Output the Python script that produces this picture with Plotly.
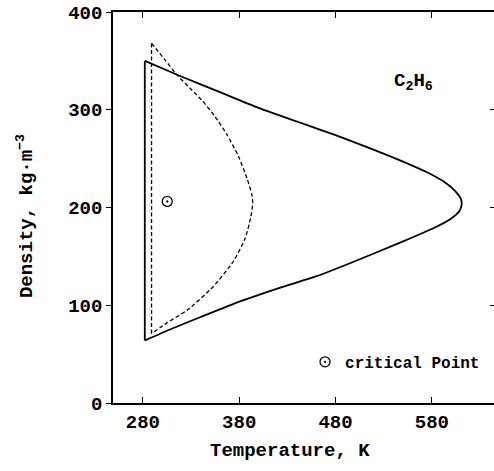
import plotly.graph_objects as go

# Ethane (C2H6): boundary curves in the temperature-density plane
# solid boundary: straight low-temperature edge plus the curved envelope
solid_edge_T = [282, 282]
solid_edge_rho = [64, 350]
solid_T = [282, 320, 360, 400, 440, 480, 520, 550, 575, 593, 604, 610, 611, 609,
           599, 582, 547, 495, 461, 426, 381, 340, 310, 282]
solid_rho = [350, 334, 318, 302, 288, 274, 259, 247, 236, 226, 217, 209, 204, 197,
             188, 179, 164, 143, 130, 119, 104, 88, 76, 64]

# dashed boundary
dashed_edge_T = [289, 289]
dashed_edge_rho = [71, 368]
dashed_T = [289, 303, 316, 329, 341, 355, 367, 379, 388, 393, 394, 392, 386, 374, 353, 326, 305, 289]
dashed_rho = [368, 351, 335, 322, 310, 293, 275, 253, 230, 214, 204, 190, 168, 145, 119, 95, 82, 71]

# critical point of ethane
crit_T = [305.3]
crit_rho = [206.2]

x_ticks = [280, 380, 480, 580]
y_ticks = [0, 100, 200, 300, 400]
right_ticks = [100, 200, 300]

FONT = "Liberation Mono"
INK = "black"
SOLID = dict(color=INK, width=1.8)
DASHED = dict(color=INK, width=1.3, dash="4px,2.5px")
TEXT = dict(family=FONT, size=19, weight="bold")

fig = go.Figure()
fig.add_trace(go.Scatter(x=solid_edge_T, y=solid_edge_rho, mode="lines", line=SOLID,
                         showlegend=False, hoverinfo="skip"))
fig.add_trace(go.Scatter(x=solid_T, y=solid_rho, mode="lines",
                         line=dict(**SOLID, shape="spline", smoothing=0.6),
                         showlegend=False, hoverinfo="skip"))
fig.add_trace(go.Scatter(x=dashed_edge_T, y=dashed_edge_rho, mode="lines", line=DASHED,
                         showlegend=False, hoverinfo="skip"))
fig.add_trace(go.Scatter(x=dashed_T, y=dashed_rho, mode="lines",
                         line=dict(**DASHED, shape="spline", smoothing=0.6),
                         showlegend=False, hoverinfo="skip"))
fig.add_trace(go.Scatter(x=crit_T, y=crit_rho, mode="markers", name="critical Point",
                         marker=dict(symbol="circle-open-dot", size=10, color=INK,
                                     line=dict(width=1.3, color=INK))))
# right-hand axis: inward ticks only
fig.add_trace(go.Scatter(x=[], y=[], yaxis="y2", showlegend=False, hoverinfo="skip"))

fig.update_layout(
    width=494, height=471,
    margin=dict(l=113, r=0, t=12, b=68),
    paper_bgcolor="white", plot_bgcolor="white",
    font=dict(family=FONT, size=19, color=INK, weight="bold"),
    xaxis=dict(range=[249, 644.5], tickvals=x_ticks, ticks="inside", ticklen=6,
               tickwidth=1.3, tickcolor=INK, showline=True, linewidth=1.5, linecolor=INK,
               mirror="ticks", showgrid=False, zeroline=False, tickfont=TEXT),
    yaxis=dict(range=[0, 400], tickvals=y_ticks, ticks="outside", ticklen=5,
               tickwidth=1.3, tickcolor=INK, showline=True, linewidth=1.5, linecolor=INK,
               showgrid=False, zeroline=False, tickfont=TEXT),
    yaxis2=dict(range=[0, 400], overlaying="y", side="right", tickvals=right_ticks,
                ticks="inside", ticklen=4, tickwidth=1.3, tickcolor=INK,
                showticklabels=False, showline=False, showgrid=False, zeroline=False),
    legend=dict(x=0.504, y=0.105, xanchor="left", yanchor="middle",
                bgcolor="rgba(0,0,0,0)", font=dict(family=FONT, size=16, weight="bold")),
    annotations=[
        dict(x=561, y=328, xref="x", yref="y", showarrow=False,
             text="C<sub>2</sub>H<sub>6</sub>", font=TEXT),
        dict(x=0.4646, y=-0.123, xref="paper", yref="paper", showarrow=False,
             xanchor="center", yanchor="middle", text="Temperature, K", font=TEXT),
        dict(x=-0.231, y=0.478, xref="paper", yref="paper", showarrow=False,
             xanchor="center", yanchor="middle", textangle=-90,
             text="Density, kg\u00b7m<sup>\u22123</sup>", font=TEXT),
    ],
)

fig.write_html("out.html")
